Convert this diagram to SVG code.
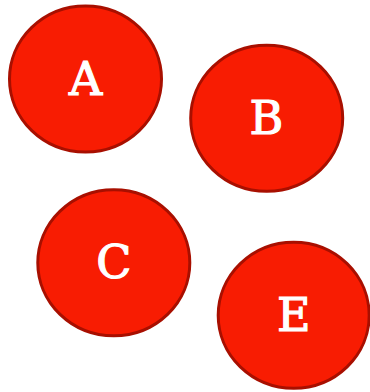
<svg xmlns="http://www.w3.org/2000/svg" width="370" height="392" viewBox="0 0 370 392">
<style>
.n{fill:#f81c02;stroke:#a80f00;stroke-width:3}
.t{fill:#ffffff;stroke:#ffffff;stroke-width:1.2;font-family:"DejaVu Serif",serif;font-size:46px;text-anchor:middle}
</style>
<rect width="370" height="392" fill="#ffffff"/>
<g id="connectors"/>
<g id="A"><ellipse class="n" cx="85.5" cy="79" rx="76" ry="73"/><text class="t" x="85.5" y="95">A</text></g>
<g id="B"><ellipse class="n" cx="266.7" cy="118.3" rx="76" ry="73"/><text class="t" x="266.5" y="134">B</text></g>
<g id="C"><ellipse class="n" cx="113.8" cy="262.7" rx="76" ry="73"/><text class="t" x="113.8" y="278">C</text></g>
<g id="E"><ellipse class="n" cx="293.7" cy="315.3" rx="75.5" ry="73"/><text class="t" x="293.7" y="331">E</text></g>
</svg>
